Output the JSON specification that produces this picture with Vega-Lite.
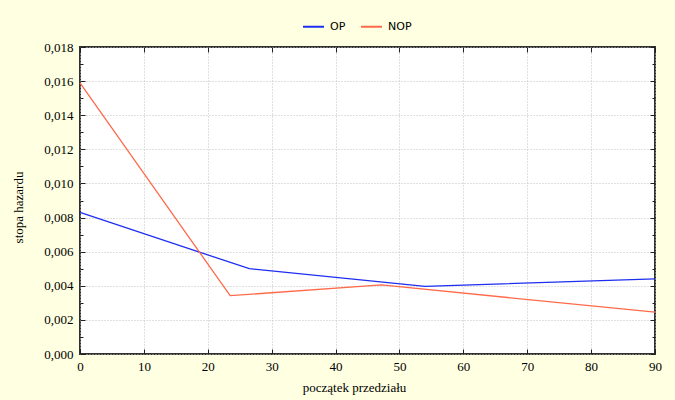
{
  "$schema": "https://vega.github.io/schema/vega-lite/v6.json",
  "autosize": {"type": "none"},
  "padding": {"left": 80, "top": 47, "right": 20, "bottom": 46},
  "width": 575,
  "height": 307,
  "background": "#FFFFE1",
  "config": {
    "view": {"fill": "#FFFFFF", "stroke": "#303030", "strokeWidth": 2},
    "axis": {
      "domain": false,
      "gridColor": "#C0C0C0",
      "gridDash": [1, 2],
      "gridWidth": 1,
      "tickColor": "#202020",
      "tickWidth": 1,
      "labelFont": "Liberation Serif",
      "labelFontSize": 13,
      "labelColor": "#000000",
      "titleFont": "Liberation Serif",
      "titleFontSize": 13,
      "titleFontWeight": "normal",
      "titleColor": "#000000"
    },
    "legend": {
      "labelFont": "DejaVu Sans",
      "labelFontSize": 11,
      "labelColor": "#000000"
    }
  },
  "data": {
    "values": [
      {"x": 0, "y": 0.0083, "grupa": "OP"},
      {"x": 26.5, "y": 0.0050, "grupa": "OP"},
      {"x": 54, "y": 0.00396, "grupa": "OP"},
      {"x": 90, "y": 0.00441, "grupa": "OP"},
      {"x": 0, "y": 0.0159, "grupa": "NOP"},
      {"x": 23.5, "y": 0.00342, "grupa": "NOP"},
      {"x": 47.2, "y": 0.00405, "grupa": "NOP"},
      {"x": 90, "y": 0.00245, "grupa": "NOP"}
    ]
  },
  "layer": [
    {
      "mark": {"type": "line", "strokeWidth": 1.3},
      "encoding": {
        "x": {
          "field": "x",
          "type": "quantitative",
          "scale": {"domain": [0, 90], "nice": false, "zero": false},
          "axis": {
            "title": "początek przedziału",
            "grid": true,
            "values": [0, 10, 20, 30, 40, 50, 60, 70, 80, 90],
            "tickSize": -5,
            "labelPadding": 11,
            "labelDx": 5,
            "labelFlush": false,
            "titlePadding": 8,
            "titleX": 274
          }
        },
        "y": {
          "field": "y",
          "type": "quantitative",
          "scale": {"domain": [0, 0.018], "nice": false},
          "axis": {
            "title": "stopa hazardu",
            "grid": true,
            "values": [0, 0.001, 0.002, 0.003, 0.004, 0.005, 0.006, 0.007, 0.008, 0.009, 0.01, 0.011, 0.012, 0.013, 0.014, 0.015, 0.016, 0.017, 0.018],
            "labelExpr": "round(datum.value*1000) % 2 == 0 ? replace(format(datum.value, '.3f'), '.', ',') : ''",
            "tickSize": {"condition": {"test": "round(datum.value*1000) % 2 == 1", "value": -3}, "value": -5},
            "gridOpacity": {"condition": {"test": "round(datum.value*1000) % 2 == 1", "value": 0}, "value": 1},
            "labelPadding": 12,
            "labelFlush": false,
            "titlePadding": 18,
            "titleY": 160
          }
        },
        "color": {
          "field": "grupa",
          "type": "nominal",
          "scale": {"domain": ["OP", "NOP"], "range": ["#1E2EF0", "#FF6A4A"]},
          "legend": {
            "title": null,
            "orient": "none",
            "direction": "horizontal",
            "legendX": 222,
            "legendY": -32,
            "symbolType": "stroke",
            "symbolSize": 441,
            "symbolStrokeWidth": 2,
            "labelOffset": 5,
            "columnPadding": 11,
            "padding": 0
          }
        }
      }
    },
    {
      "mark": {"type": "line", "strokeOpacity": 0},
      "encoding": {
        "detail": {"field": "grupa"},
        "x": {
          "field": "x",
          "type": "quantitative",
          "axis": {
            "orient": "top",
            "title": null,
            "grid": false,
            "labels": false,
            "values": [0, 10, 20, 30, 40, 50, 60, 70, 80, 90],
            "tickSize": -5
          }
        },
        "y": {
          "field": "y",
          "type": "quantitative",
          "axis": {
            "orient": "right",
            "title": null,
            "grid": false,
            "labels": false,
            "values": [0, 0.001, 0.002, 0.003, 0.004, 0.005, 0.006, 0.007, 0.008, 0.009, 0.01, 0.011, 0.012, 0.013, 0.014, 0.015, 0.016, 0.017, 0.018],
            "tickSize": {"condition": {"test": "round(datum.value*1000) % 2 == 1", "value": -3}, "value": -5}
          }
        }
      }
    }
  ],
  "resolve": {"axis": {"x": "independent", "y": "independent"}}
}
